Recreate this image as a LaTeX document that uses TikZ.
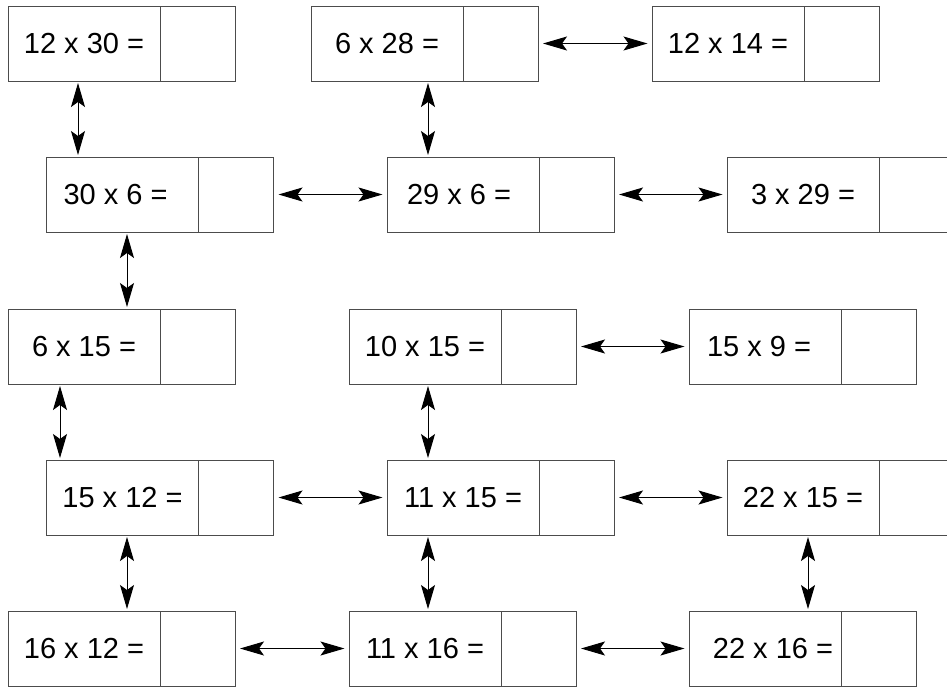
\documentclass[tikz,border=0pt]{standalone}
\usepackage{fontspec}
\setmainfont{Liberation Sans}
\usepackage{tikz}
\usetikzlibrary{positioning}
\usetikzlibrary{arrows.meta}
\tikzset{%
  twoway/.style = {{Stealth[length=24pt,width=14pt,inset=5pt]}-{Stealth[length=24pt,width=14pt,inset=5pt]},
        line width=1pt},
  across/.style = {twoway,shorten <=5pt,shorten >=4.5pt},
  down/.style = {twoway,shorten <=2pt,shorten >=2pt},
  eq/.style = {rectangle,draw=black!70,line width=1pt,minimum width=152pt,
        minimum height=75pt,inner sep=0pt,outer sep=0pt,anchor=north west,
        font=\fontsize{29}{34}\selectfont},
  ans/.style = {rectangle,draw=black!70,line width=1pt,minimum width=75pt,
        minimum height=75pt,inner sep=0pt,outer sep=0pt}
}
\begin{document}
\begin{tikzpicture}[x=1pt,y=-1pt]
                            \useasboundingbox (0,0) rectangle (947,686);
                            \clip (0,0) rectangle (947,686);
                            % row 1
                            \node[eq] (q11) at (8,6) {12 x 30 =};
                            \node[ans] (s11) [right=0pt of q11] {};
                            \node[eq] (q12) at (311,6) {6 x 28 =};
                            \node[ans] (s12) [right=0pt of q12] {};
                            \node[eq] (q13) at (652,6) {12 x 14 =};
                            \node[ans] (s13) [right=0pt of q13] {};
                            % row 2
                            \node[eq] (q21) at (46.5,157) {30 x 6 =\kern14pt};
                            \node[ans] (s21) [right=0pt of q21] {};
                            \node[eq] (q22) at (387,157) {29 x 6 =\kern8pt};
                            \node[ans] (s22) [right=0pt of q22] {};
                            \node[eq] (q23) at (727,157) {3 x 29 =};
                            \node[ans] (s23) [right=0pt of q23] {};
                            % row 3
                            \node[eq] (q31) at (8,309) {6 x 15 =};
                            \node[ans] (s31) [right=0pt of q31] {};
                            \node[eq] (q32) at (349,309) {10 x 15 =};
                            \node[ans] (s32) [right=0pt of q32] {};
                            \node[eq] (q33) at (689,309) {15 x 9 =\kern12pt};
                            \node[ans] (s33) [right=0pt of q33] {};
                            % row 4
                            \node[eq] (q41) at (46.5,460) {15 x 12 =};
                            \node[ans] (s41) [right=0pt of q41] {};
                            \node[eq] (q42) at (387,460) {11 x 15 =};
                            \node[ans] (s42) [right=0pt of q42] {};
                            \node[eq] (q43) at (727,460) {22 x 15 =};
                            \node[ans] (s43) [right=0pt of q43] {};
                            % row 5
                            \node[eq] (q51) at (8,611) {16 x 12 =};
                            \node[ans] (s51) [right=0pt of q51] {};
                            \node[eq] (q52) at (349,611) {11 x 16 =};
                            \node[ans] (s52) [right=0pt of q52] {};
                            \node[eq] (q53) at (689,611) {\kern16pt22 x 16 =};
                            \node[ans] (s53) [right=0pt of q53] {};

                            \path[across] (s12) edge (q13)
                                    (s21) edge (q22)
                                    (s22) edge (q23)
                                    (s32) edge (q33)
                                    (s41) edge (q42)
                                    (s42) edge (q43)
                                    (s51) edge (q52)
                                    (s52) edge (q53);

                            \draw[down] (q11.south -| 78,0) -- (q21.north -| 78,0);
                            \draw[down] (q12.south -| 428,0) -- (q22.north -| 428,0);
                            \draw[down] (q21.south -| 127,0) -- (q31.north -| 127,0);
                            \draw[down] (q31.south -| 60,0) -- (q41.north -| 60,0);
                            \draw[down] (q32.south -| 428,0) -- (q42.north -| 428,0);
                            \draw[down] (q41.south -| 127,0) -- (q51.north -| 127,0);
                            \draw[down] (q42.south -| 428,0) -- (q52.north -| 428,0);
                            \draw[down] (q43.south -| 808,0) -- (q53.north -| 808,0);
                        \end{tikzpicture}
\end{document}
